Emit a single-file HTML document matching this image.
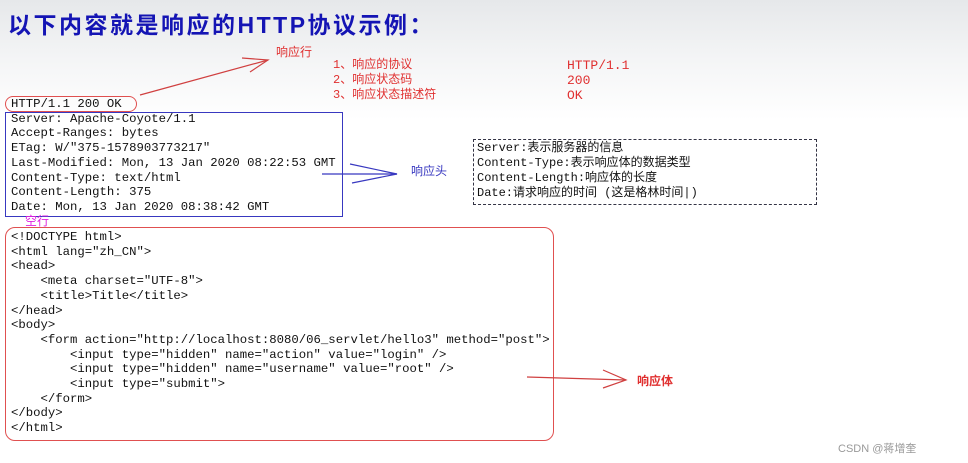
<!DOCTYPE html>
<html><head><meta charset="utf-8"><style>
body{margin:0;width:968px;height:463px;overflow:hidden;background:linear-gradient(#e6e8ea 0px,#f4f5f6 60px,#fff 120px);position:relative;font-family:"Liberation Mono","Noto Sans CJK SC",monospace;}
.t{position:absolute;white-space:pre;font-size:12.3px;line-height:14.7px;color:#111;}
.cn{position:absolute;white-space:pre;font-size:12px;font-family:"Liberation Mono","Noto Sans CJK SC",monospace;}
</style></head><body>
<div style="position:absolute;left:8px;top:6px;font:bold 23px 'Liberation Sans','Noto Sans CJK SC',sans-serif;color:#1414b4;letter-spacing:2.5px;">以下内容就是响应的HTTP协议示例：</div>
<div class="cn" style="left:276px;top:43px;color:#e03030;">响应行</div>
<div class="cn" style="left:333px;top:58px;color:#e03030;line-height:15px;">1、响应的协议
2、响应状态码
3、响应状态描述符</div>
<div class="cn" style="left:567px;top:58px;color:#e03030;line-height:15px;font-size:13px;">HTTP/1.1
200
OK</div>
<div class="t" style="left:11px;top:97px;">HTTP/1.1 200 OK
Server: Apache-Coyote/1.1
Accept-Ranges: bytes
ETag: W/"375-1578903773217"
Last-Modified: Mon, 13 Jan 2020 08:22:53 GMT
Content-Type: text/html
Content-Length: 375
Date: Mon, 13 Jan 2020 08:38:42 GMT</div>
<div style="position:absolute;left:5px;top:96px;width:130px;height:14px;border:1px solid #e05050;border-radius:8px;"></div>
<div style="position:absolute;left:5px;top:112px;width:336px;height:103px;border:1px solid #3838c0;"></div>
<div class="cn" style="left:411px;top:162px;color:#3838c0;">响应头</div>
<div class="cn" style="left:25px;top:212px;color:#e020e0;">空行</div>
<div style="position:absolute;left:473px;top:139px;width:342px;height:64px;border:1px dashed #334;"></div>
<div class="t" style="left:477px;top:141px;font-size:12px;line-height:15px;">Server:表示服务器的信息
Content-Type:表示响应体的数据类型
Content-Length:响应体的长度
Date:请求响应的时间 (这是格林时间|)</div>
<div style="position:absolute;left:5px;top:227px;width:547px;height:212px;border:1px solid #e05050;border-radius:10px;"></div>
<div class="t" style="left:11px;top:230px;">&lt;!DOCTYPE html&gt;
&lt;html lang="zh_CN"&gt;
&lt;head&gt;
    &lt;meta charset="UTF-8"&gt;
    &lt;title&gt;Title&lt;/title&gt;
&lt;/head&gt;
&lt;body&gt;
    &lt;form action="http://localhost:8080/06_servlet/hello3" method="post"&gt;
        &lt;input type="hidden" name="action" value="login" /&gt;
        &lt;input type="hidden" name="username" value="root" /&gt;
        &lt;input type="submit"&gt;
    &lt;/form&gt;
&lt;/body&gt;
&lt;/html&gt;</div>
<div class="cn" style="left:637px;top:372px;color:#e03030;font-weight:bold;">响应体</div>
<svg width="968" height="463" style="position:absolute;left:0;top:0">
<g fill="none" stroke="#d04040" stroke-width="1.2">
<path d="M140 95 L268 60"/><path d="M242 58 L268 60 L250 72"/>
<path d="M527 377 L626 380"/><path d="M603 370 L626 380 L603 388"/>
</g>
<g fill="none" stroke="#3838c0" stroke-width="1.2">
<path d="M322 174 L397 174"/><path d="M350 164 L397 174 L352 183"/>
</g>
</svg>
<div style="position:absolute;left:838px;top:440px;font:11px 'Liberation Sans','Noto Sans CJK SC',sans-serif;color:#999;">CSDN @蒋增奎</div>
</body></html>
